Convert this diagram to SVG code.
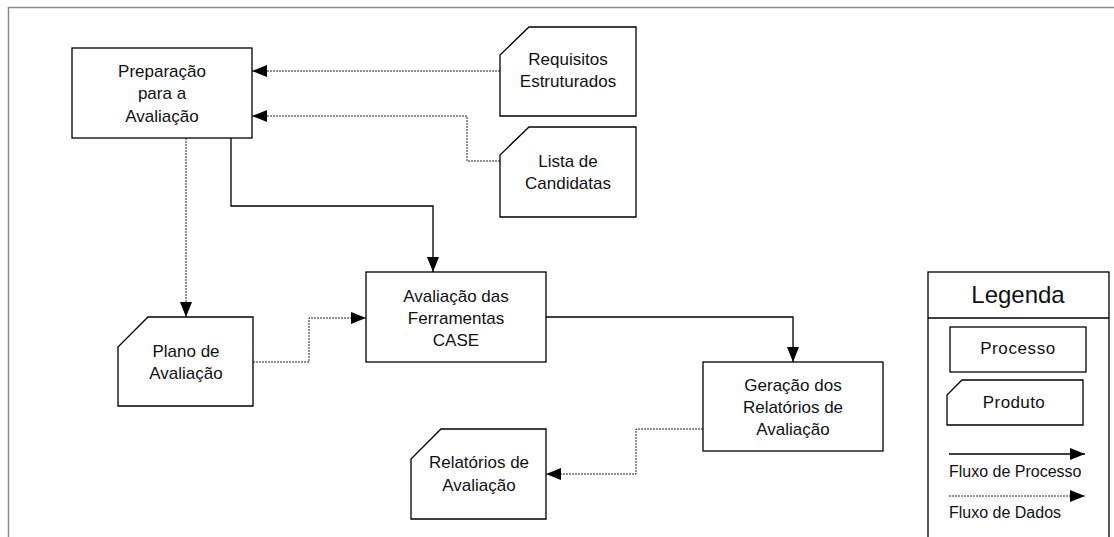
<svg xmlns="http://www.w3.org/2000/svg" width="1114" height="537" viewBox="0 0 1114 537">
  <style>
    .box { fill: #fff; stroke: #000; stroke-width: 1.3; }
    .lbl { font-family: "Liberation Sans", Arial, sans-serif; font-size: 17px; fill: #111; text-anchor: middle; }
    .small { font-size: 16px; text-anchor: start; }
    .flow { fill: none; stroke: #000; stroke-width: 1.3; }
    .data { fill: none; stroke: #222; stroke-width: 1; stroke-dasharray: 2 1; }
    .frame { fill: none; stroke: #8a8a8a; stroke-width: 1.5; }
  </style>
  <defs>
    <marker id="arrow" markerUnits="userSpaceOnUse" markerWidth="15" markerHeight="12" refX="15" refY="6" orient="auto">
      <path d="M0,0 L15,6 L0,12 z" fill="#000"/>
    </marker>
  </defs>

  <rect width="1114" height="537" fill="#fff"/>
  <!-- page frame -->
  <path class="frame" d="M8.5,537 V7.5 H1114"/>

  <!-- connectors -->
  <g id="connectors">
    <path class="data" d="M500,71 H252" marker-end="url(#arrow)"/>
    <path class="data" d="M500,161 H467 V116 H252" marker-end="url(#arrow)"/>
    <path class="flow" d="M231,138 V206 H433 V272" marker-end="url(#arrow)"/>
    <path class="data" d="M186,138 V317" marker-end="url(#arrow)"/>
    <path class="data" d="M253,362 H309 V318 H366" marker-end="url(#arrow)"/>
    <path class="flow" d="M546,317 H793 V362" marker-end="url(#arrow)"/>
    <path class="data" d="M703,429 H636 V474 H546" marker-end="url(#arrow)"/>
  </g>

  <g id="preparacao">
    <rect class="box" x="72" y="48" width="180" height="90"/>
    <text class="lbl" x="162" y="77">Preparação</text>
    <text class="lbl" x="162" y="99">para a</text>
    <text class="lbl" x="162" y="122">Avaliação</text>
  </g>

  <g id="requisitos">
    <path class="box" d="M529,27 H636 V116 H500 V55 Z"/>
    <text class="lbl" x="568" y="65">Requisitos</text>
    <text class="lbl" x="568" y="87">Estruturados</text>
  </g>

  <g id="candidatas">
    <path class="box" d="M529,127 H636 V217 H500 V155 Z"/>
    <text class="lbl" x="568" y="167">Lista de</text>
    <text class="lbl" x="568" y="189">Candidatas</text>
  </g>

  <g id="avaliacao-ferramentas">
    <rect class="box" x="366" y="272" width="180" height="90"/>
    <text class="lbl" x="456" y="302">Avaliação das</text>
    <text class="lbl" x="456" y="324">Ferramentas</text>
    <text class="lbl" x="456" y="346">CASE</text>
  </g>

  <g id="plano">
    <path class="box" d="M148,317 H253 V406 H118 V347 Z"/>
    <text class="lbl" x="186" y="357">Plano de</text>
    <text class="lbl" x="186" y="379">Avaliação</text>
  </g>

  <g id="geracao">
    <rect class="box" x="703" y="362" width="180" height="89"/>
    <text class="lbl" x="793" y="391">Geração dos</text>
    <text class="lbl" x="793" y="413">Relatórios de</text>
    <text class="lbl" x="793" y="435">Avaliação</text>
  </g>

  <g id="relatorios">
    <path class="box" d="M441,429 H546 V519 H411 V459 Z"/>
    <text class="lbl" x="479" y="468">Relatórios de</text>
    <text class="lbl" x="479" y="491">Avaliação</text>
  </g>

  <g id="legenda">
    <rect class="box" x="928" y="272" width="181" height="270"/>
    <line x1="928" y1="318" x2="1109" y2="318" stroke="#000" stroke-width="1.3"/>
    <text class="lbl" x="1018" y="303" style="font-size:24px">Legenda</text>
    <rect class="box" x="950" y="327" width="136" height="45"/>
    <text class="lbl" x="1018" y="354" style="letter-spacing:0.6px">Processo</text>
    <path class="box" d="M962,380 H1083 V425 H947 V395 Z"/>
    <text class="lbl" x="1014" y="408" style="letter-spacing:0.4px">Produto</text>
    <path class="flow" d="M949,454 H1085" marker-end="url(#arrow)"/>
    <text class="lbl small" x="949" y="477">Fluxo de Processo</text>
    <path class="data" d="M949,496 H1085" marker-end="url(#arrow)"/>
    <text class="lbl small" x="949" y="518">Fluxo de Dados</text>
  </g>
</svg>
